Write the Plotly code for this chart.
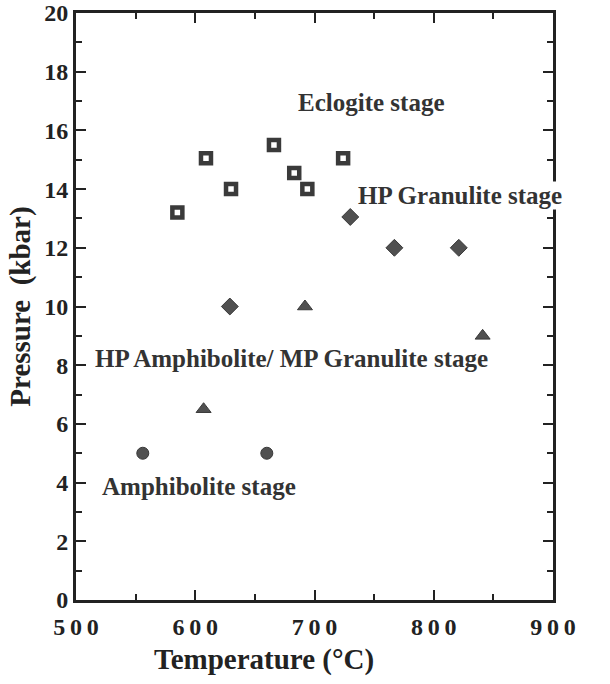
import plotly.graph_objects as go

# Data (temperature °C, pressure kbar)
ecl_T = [585, 609, 630, 666, 683, 694, 724]
ecl_P = [13.2, 15.05, 14.0, 15.5, 14.55, 14.0, 15.05]
hpg_T = [730, 767, 821, 629]
hpg_P = [13.05, 12.0, 12.0, 10.0]
amp_T = [692, 841, 607]
amp_P = [10.0, 9.0, 6.5]
am_T = [556, 660]
am_P = [5.0, 5.0]

x_ticks = [500, 600, 700, 800, 900]
x_labels = ["5\u20090\u20090", "6\u20090\u20090", "7\u20090\u20090", "8\u20090\u20090", "9\u20090\u20090"]
y_ticks = [0, 2, 4, 6, 8, 10, 12, 14, 16, 18, 20]

labels = [
    ("Eclogite stage", 747, 16.95),
    ("HP Granulite stage", 822, 13.77),
    ("HP Amphibolite/ MP Granulite stage", 681, 8.24),
    ("Amphibolite stage", 603, 3.87),
]

DARK = "#3a3a3a"
FONT = "Liberation Serif"

fig = go.Figure()
fig.add_trace(go.Scatter(x=ecl_T, y=ecl_P, mode="markers",
                         marker=dict(symbol="square-open", size=10, color=DARK,
                                     line=dict(width=4.5, color=DARK))))
fig.add_trace(go.Scatter(x=hpg_T, y=hpg_P, mode="markers",
                         marker=dict(symbol="diamond", size=13, color="#505050",
                                     line=dict(width=1, color=DARK))))
fig.add_trace(go.Scatter(x=amp_T, y=amp_P, mode="markers",
                         marker=dict(symbol="triangle-up", size=13, color="#505050",
                                     line=dict(width=1, color=DARK))))
fig.add_trace(go.Scatter(x=am_T, y=am_P, mode="markers",
                         marker=dict(symbol="circle", size=12, color="#505050",
                                     line=dict(width=1, color=DARK))))

for text, x, y in labels:
    fig.add_annotation(x=x, y=y, text="<b>%s</b>" % text, showarrow=False,
                       font=dict(family=FONT, size=25, color="#333"),
                       bgcolor="white", borderpad=0)

# x-axis title (offset left of the plot centre as in the original)
fig.add_annotation(xref="paper", yref="paper", x=0.395, y=-0.102, yanchor="middle",
                   text="<b>Temperature (°C)</b>", showarrow=False,
                   font=dict(family=FONT, size=29, color="#222"))

axis_common = dict(
    showline=True, linewidth=3, linecolor="#222", mirror="ticks",
    ticks="inside", ticklen=10, tickwidth=2, tickcolor="#222",
    showgrid=False, zeroline=False, automargin=False,
)

fig.update_xaxes(range=[500, 900], tickvals=x_ticks, ticktext=x_labels,
                 tickfont=dict(family=FONT, size=24, color="#222", weight="bold"),
                 ticklabelstandoff=3,
                 minor=dict(dtick=50, ticklen=6, tickwidth=2, ticks="inside", tickcolor="#222"),
                 **axis_common)
fig.update_yaxes(range=[0, 20], tickvals=y_ticks,
                 tickfont=dict(family=FONT, size=24, color="#222", weight="bold"),
                 minor=dict(dtick=1, ticklen=6, tickwidth=2, ticks="inside", tickcolor="#222"),
                 title=dict(text="<b>Pressure  (kbar)</b>", standoff=6,
                            font=dict(family=FONT, size=29, color="#222")),
                 **axis_common)

fig.update_layout(
    width=610, height=684,
    margin=dict(l=76, r=57, t=13, b=84),
    plot_bgcolor="white", paper_bgcolor="white",
    showlegend=False,
    font=dict(family=FONT),
)

fig.write_html("out.html")
